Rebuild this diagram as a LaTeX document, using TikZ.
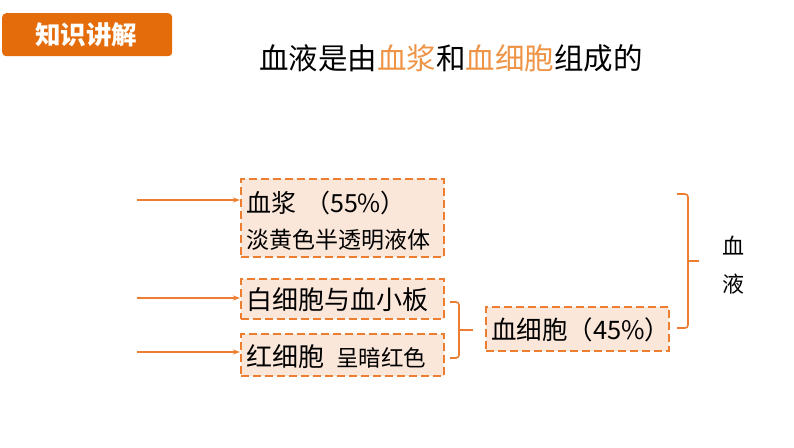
\documentclass[tikz,border=0pt]{standalone}
\usepackage{fontspec}
\setmainfont{Noto Sans CJK SC}
\usetikzlibrary{arrows.meta}
\definecolor{hdr}{HTML}{E46C0A}
\definecolor{org}{HTML}{ED7D31}
\definecolor{orgtxt}{HTML}{EE9447}
\definecolor{peach}{HTML}{FBE7D9}
\newcommand{\fs}[1]{\fontsize{#1}{#1}\selectfont}
\tikzset{
  dbox/.style={draw=org, fill=peach, line width=2pt, dash pattern=on 8pt off 4pt, minimum width=203pt, inner sep=0pt, anchor=north west},
  txt/.style={inner sep=0pt, anchor=west, text=black},
  arr/.style={draw=org, line width=1.2pt, -{Stealth[length=7pt,width=5pt]}},
  brk/.style={draw=org, line width=1.6pt, rounded corners=3pt}
}
\begin{document}
\begin{tikzpicture}[x=1pt,y=-1pt]
\useasboundingbox (0,0) rectangle (794,447);
% header
\node[fill=hdr, rounded corners=4pt, minimum width=170pt, minimum height=43pt, inner sep=0pt, anchor=north west] (hdr) at (2,13) {};
\node[inner sep=0pt, text=white, font=\fs{25.5}\bfseries] (hdrtxt) at (86,35) {知识讲解};
% title
\node[inner sep=0pt, font=\fs{29.5}] (title) at (451,58) {血液是由\textcolor{orgtxt}{血浆}和\textcolor{orgtxt}{血细胞}组成的};
% boxes
\node[dbox, minimum height=78pt] (plasma) at (240,178) {};
\node[dbox, minimum height=40pt] (wbc) at (240,278) {};
\node[dbox, minimum height=42pt] (rbc) at (240,333) {};
\node[dbox, minimum width=183pt, minimum height=44pt] (cells) at (485,306) {};
% texts
\node[txt, font=\fs{25}] (t1) at (246,203) {血浆\hspace{9pt}（55\%）};
\node[txt, font=\fs{23}] (t2) at (246,240) {淡黄色半透明液体};
\node[txt, font=\fs{26}] (t3) at (246,300) {白细胞与血小板};
\node[txt, font=\fs{26}] (t4) at (246,357) {红细胞\hspace{12pt}{\fs{22.5}呈暗红色}};
\node[txt, font=\fs{25.5}] (t5) at (491,330) {血细胞（45\%）};
\node[inner sep=0pt, font=\fs{22}] (xue) at (733,246) {血};
\node[inner sep=0pt, font=\fs{22}] (ye) at (733,284) {液};
% arrows
\coordinate (a1) at (137,200);
\coordinate (a2) at (137,298);
\coordinate (a3) at (137,352);
\draw[arr] (a1) -- (a1 -| plasma.west);
\draw[arr] (a2) -- (a2 -| wbc.west);
\draw[arr] (a3) -- (a3 -| rbc.west);
% bracket 1
\coordinate (b1t) at (450,302);
\coordinate (b1b) at (450,358);
\coordinate (b1m) at (473,330);
\draw[brk] (b1t) -- (459,302) -- (459,358) -- (b1b);
\draw[brk] (459,330) -- (b1m);
% bracket 2
\coordinate (b2t) at (677,194);
\coordinate (b2b) at (677,328);
\coordinate (b2m) at (699,261);
\draw[brk] (b2t) -- (688,194) -- (688,328) -- (b2b);
\draw[brk] (688,261) -- (b2m);
\end{tikzpicture}
\end{document}
